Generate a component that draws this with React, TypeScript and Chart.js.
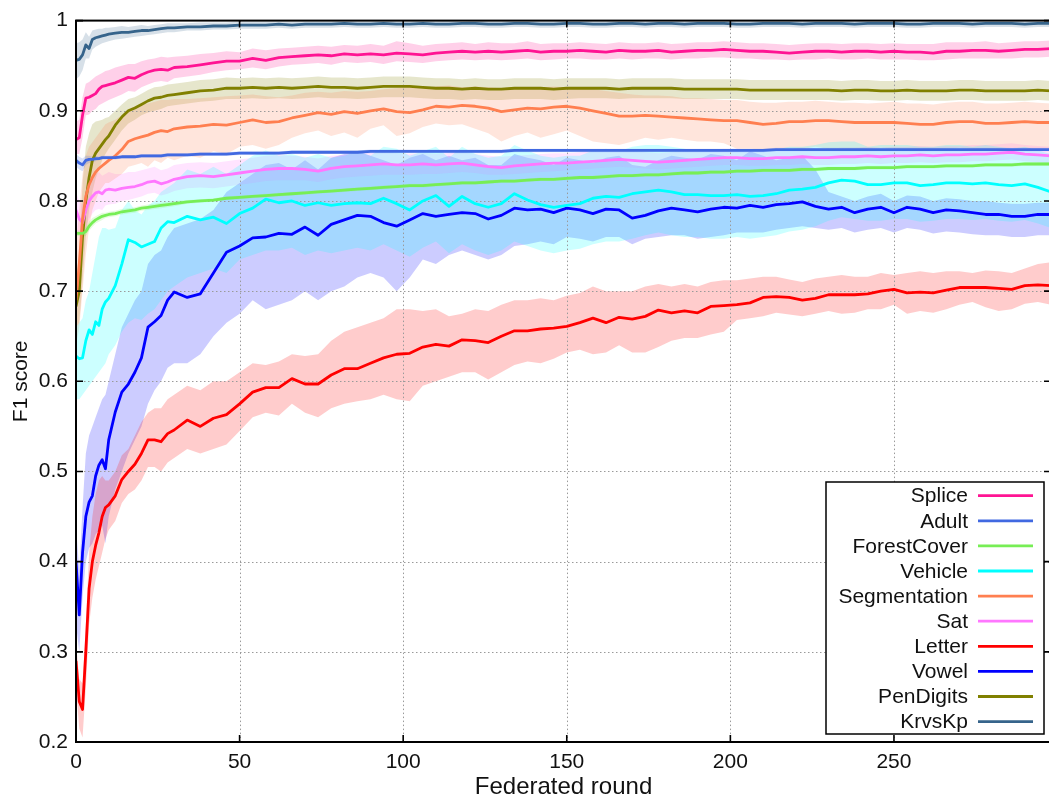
import React, { useEffect, useRef } from "react";
import { Chart, registerables } from "chart.js";

Chart.register(...registerables);

// Federated rounds at which the scores are sampled
const ROUNDS = [
  0, 1, 2, 3, 4, 5, 6, 7, 8, 9, 10,
  12, 14, 16, 18, 20, 22, 24, 26, 28, 30,
  34, 38, 42, 46, 50, 54, 58, 62, 66, 70,
  74, 78, 82, 86, 90, 94, 98, 102, 106, 110,
  114, 118, 122, 126, 130, 134, 138, 142, 146, 150,
  154, 158, 162, 166, 170, 174, 178, 182, 186, 190,
  194, 198, 202, 206, 210, 214, 218, 222, 226, 230,
  234, 238, 242, 246, 250, 254, 258, 262, 266, 270,
  274, 278, 282, 286, 290, 294, 298,
];

const X_TICKS = [0, 50, 100, 150, 200, 250];
const Y_TICKS = [0.2, 0.3, 0.4, 0.5, 0.6, 0.7, 0.8, 0.9, 1];
const Y_MIN = 0.2;
const Y_MAX = 1;
const X_MAX = 298;

const SERIES_NAMES = [
  "Splice", "Adult", "ForestCover", "Vehicle", "Segmentation",
  "Sat", "Letter", "Vowel", "PenDigits", "KrvsKp",
];
const SERIES_COLORS = [
  "#ff1493", "#4169e1", "#77ee55", "#00ffff", "#ff7f50",
  "#ff77ff", "#ff0000", "#0000ff", "#808000", "#36648b",
];

// ---- Splice ----
const SPLICE_MEAN = [
  0.868, 0.870, 0.895, 0.914, 0.915, 0.917, 0.919, 0.924, 0.927, 0.928, 0.929,
  0.931, 0.934, 0.937, 0.936, 0.940, 0.943, 0.945, 0.946, 0.945, 0.948,
  0.949, 0.951, 0.953, 0.955, 0.955, 0.958, 0.956, 0.959, 0.960, 0.961,
  0.962, 0.961, 0.963, 0.962, 0.963, 0.962, 0.964, 0.963, 0.962, 0.964,
  0.965, 0.966, 0.965, 0.966, 0.965, 0.966, 0.967, 0.965, 0.966, 0.966,
  0.967, 0.966, 0.965, 0.967, 0.966, 0.966, 0.967, 0.965, 0.966, 0.967,
  0.967, 0.968, 0.967, 0.966, 0.966, 0.965, 0.964, 0.965, 0.966, 0.966,
  0.965, 0.966, 0.966, 0.965, 0.966, 0.965, 0.965, 0.964, 0.966, 0.966,
  0.967, 0.967, 0.966, 0.967, 0.968, 0.968, 0.969,
];
const SPLICE_LOW = [
  0.852, 0.852, 0.870, 0.895, 0.896, 0.900, 0.902, 0.906, 0.908, 0.910, 0.912,
  0.915, 0.918, 0.922, 0.921, 0.926, 0.929, 0.932, 0.933, 0.932, 0.936,
  0.938, 0.940, 0.943, 0.945, 0.946, 0.948, 0.946, 0.949, 0.951, 0.952,
  0.953, 0.951, 0.954, 0.953, 0.954, 0.952, 0.955, 0.954, 0.953, 0.955,
  0.956, 0.957, 0.956, 0.957, 0.956, 0.957, 0.958, 0.956, 0.957, 0.958,
  0.958, 0.957, 0.957, 0.958, 0.957, 0.958, 0.958, 0.957, 0.958, 0.958,
  0.959, 0.959, 0.958, 0.958, 0.957, 0.957, 0.956, 0.957, 0.957, 0.958,
  0.957, 0.957, 0.958, 0.957, 0.957, 0.957, 0.956, 0.956, 0.957, 0.958,
  0.958, 0.958, 0.958, 0.958, 0.959, 0.959, 0.960,
];
const SPLICE_HIGH = [
  0.888, 0.890, 0.915, 0.930, 0.932, 0.935, 0.938, 0.940, 0.942, 0.944, 0.945,
  0.948, 0.950, 0.952, 0.952, 0.955, 0.957, 0.958, 0.960, 0.959, 0.960,
  0.961, 0.963, 0.964, 0.966, 0.965, 0.969, 0.967, 0.969, 0.970, 0.971,
  0.972, 0.971, 0.973, 0.972, 0.974, 0.972, 0.977, 0.975, 0.972, 0.974,
  0.975, 0.976, 0.974, 0.976, 0.975, 0.975, 0.977, 0.974, 0.975, 0.975,
  0.976, 0.975, 0.974, 0.976, 0.975, 0.975, 0.976, 0.974, 0.975, 0.976,
  0.976, 0.977, 0.976, 0.975, 0.975, 0.974, 0.973, 0.974, 0.975, 0.975,
  0.974, 0.975, 0.975, 0.974, 0.975, 0.974, 0.974, 0.974, 0.976, 0.976,
  0.976, 0.977, 0.975, 0.976, 0.977, 0.977, 0.978,
];

// ---- Adult ----
const ADULT_MEAN = [
  0.845, 0.842, 0.840, 0.845, 0.846, 0.846, 0.847, 0.847, 0.848, 0.848, 0.848,
  0.848, 0.849, 0.849, 0.849, 0.850, 0.850, 0.850, 0.850, 0.851, 0.851,
  0.851, 0.852, 0.852, 0.852, 0.853, 0.853, 0.853, 0.853, 0.854, 0.854,
  0.854, 0.854, 0.854, 0.854, 0.855, 0.855, 0.855, 0.855, 0.855, 0.855,
  0.855, 0.855, 0.855, 0.855, 0.855, 0.856, 0.856, 0.856, 0.856, 0.856,
  0.856, 0.856, 0.856, 0.856, 0.856, 0.856, 0.856, 0.856, 0.856, 0.856,
  0.856, 0.856, 0.856, 0.856, 0.856, 0.857, 0.857, 0.857, 0.857, 0.857,
  0.857, 0.857, 0.857, 0.857, 0.857, 0.857, 0.857, 0.857, 0.857, 0.857,
  0.857, 0.857, 0.857, 0.857, 0.857, 0.857, 0.857,
];
const ADULT_LOW = [
  0.838, 0.835, 0.833, 0.840, 0.842, 0.843, 0.844, 0.845, 0.846, 0.846, 0.846,
  0.846, 0.847, 0.847, 0.847, 0.848, 0.848, 0.848, 0.848, 0.849, 0.849,
  0.849, 0.850, 0.850, 0.850, 0.851, 0.851, 0.851, 0.851, 0.852, 0.852,
  0.852, 0.852, 0.852, 0.852, 0.853, 0.853, 0.853, 0.853, 0.853, 0.853,
  0.853, 0.853, 0.853, 0.853, 0.853, 0.854, 0.854, 0.854, 0.854, 0.854,
  0.854, 0.854, 0.854, 0.854, 0.854, 0.854, 0.854, 0.854, 0.854, 0.854,
  0.854, 0.854, 0.854, 0.854, 0.854, 0.855, 0.855, 0.855, 0.855, 0.855,
  0.855, 0.855, 0.855, 0.855, 0.855, 0.855, 0.855, 0.855, 0.855, 0.855,
  0.855, 0.855, 0.855, 0.855, 0.855, 0.855, 0.855,
];
const ADULT_HIGH = [
  0.852, 0.849, 0.847, 0.850, 0.850, 0.849, 0.850, 0.849, 0.850, 0.850, 0.850,
  0.850, 0.851, 0.851, 0.851, 0.852, 0.852, 0.852, 0.852, 0.853, 0.853,
  0.853, 0.854, 0.854, 0.854, 0.855, 0.855, 0.855, 0.855, 0.856, 0.856,
  0.856, 0.856, 0.856, 0.856, 0.857, 0.857, 0.857, 0.857, 0.857, 0.857,
  0.857, 0.857, 0.857, 0.857, 0.857, 0.858, 0.858, 0.858, 0.858, 0.858,
  0.858, 0.858, 0.858, 0.858, 0.858, 0.858, 0.858, 0.858, 0.858, 0.858,
  0.858, 0.858, 0.858, 0.858, 0.858, 0.859, 0.859, 0.859, 0.859, 0.859,
  0.859, 0.859, 0.859, 0.859, 0.859, 0.859, 0.859, 0.859, 0.859, 0.859,
  0.859, 0.859, 0.859, 0.859, 0.859, 0.859, 0.859,
];

// ---- ForestCover ----
const FOREST_MEAN = [
  0.764, 0.764, 0.764, 0.766, 0.772, 0.776, 0.779, 0.781, 0.783, 0.784, 0.785,
  0.786, 0.788, 0.789, 0.790, 0.792, 0.793, 0.794, 0.795, 0.796, 0.797,
  0.799, 0.800, 0.801, 0.803, 0.804, 0.805, 0.806, 0.807, 0.808, 0.809,
  0.810, 0.811, 0.812, 0.813, 0.814, 0.815, 0.816, 0.817, 0.817, 0.818,
  0.819, 0.820, 0.820, 0.821, 0.822, 0.822, 0.823, 0.824, 0.824, 0.825,
  0.826, 0.826, 0.827, 0.828, 0.828, 0.829, 0.829, 0.830, 0.831, 0.831,
  0.832, 0.832, 0.833, 0.833, 0.834, 0.834, 0.834, 0.835, 0.835, 0.836,
  0.836, 0.836, 0.837, 0.837, 0.837, 0.838, 0.838, 0.838, 0.839, 0.839,
  0.839, 0.840, 0.840, 0.840, 0.841, 0.841, 0.841,
];
const FOREST_LOW = [
  0.761, 0.761, 0.760, 0.761, 0.767, 0.771, 0.775, 0.777, 0.779, 0.781, 0.782,
  0.783, 0.785, 0.786, 0.787, 0.789, 0.790, 0.791, 0.792, 0.793, 0.794,
  0.797, 0.798, 0.799, 0.801, 0.802, 0.803, 0.804, 0.805, 0.806, 0.807,
  0.808, 0.809, 0.810, 0.811, 0.812, 0.813, 0.814, 0.815, 0.815, 0.816,
  0.817, 0.818, 0.818, 0.819, 0.820, 0.820, 0.821, 0.822, 0.822, 0.823,
  0.824, 0.824, 0.825, 0.826, 0.826, 0.827, 0.827, 0.828, 0.829, 0.829,
  0.830, 0.830, 0.831, 0.831, 0.832, 0.832, 0.832, 0.833, 0.833, 0.834,
  0.834, 0.834, 0.835, 0.835, 0.835, 0.836, 0.836, 0.836, 0.837, 0.837,
  0.837, 0.838, 0.838, 0.838, 0.839, 0.839, 0.839,
];
const FOREST_HIGH = [
  0.767, 0.767, 0.768, 0.771, 0.777, 0.781, 0.783, 0.785, 0.787, 0.787, 0.788,
  0.789, 0.791, 0.792, 0.793, 0.795, 0.796, 0.797, 0.798, 0.799, 0.800,
  0.801, 0.802, 0.803, 0.805, 0.806, 0.807, 0.808, 0.809, 0.810, 0.811,
  0.812, 0.813, 0.814, 0.815, 0.816, 0.817, 0.818, 0.819, 0.819, 0.820,
  0.821, 0.822, 0.822, 0.823, 0.824, 0.824, 0.825, 0.826, 0.826, 0.827,
  0.828, 0.828, 0.829, 0.830, 0.830, 0.831, 0.831, 0.832, 0.833, 0.833,
  0.834, 0.834, 0.835, 0.835, 0.836, 0.836, 0.836, 0.837, 0.837, 0.838,
  0.838, 0.838, 0.839, 0.839, 0.839, 0.840, 0.840, 0.840, 0.841, 0.841,
  0.841, 0.842, 0.842, 0.842, 0.843, 0.843, 0.843,
];

// ---- Vehicle ----
const VEHICLE_MEAN = [
  0.628, 0.625, 0.626, 0.645, 0.657, 0.652, 0.666, 0.662, 0.680, 0.688, 0.692,
  0.706, 0.730, 0.757, 0.754, 0.749, 0.752, 0.755, 0.770, 0.777, 0.776,
  0.783, 0.779, 0.782, 0.775, 0.786, 0.792, 0.802, 0.798, 0.800, 0.795,
  0.798, 0.795, 0.797, 0.798, 0.797, 0.803, 0.797, 0.790, 0.800, 0.806,
  0.794, 0.805, 0.797, 0.793, 0.797, 0.808, 0.801, 0.796, 0.793, 0.795,
  0.797, 0.803, 0.805, 0.804, 0.808, 0.810, 0.812, 0.810, 0.807, 0.807,
  0.806, 0.806, 0.807, 0.805, 0.806, 0.808, 0.812, 0.813, 0.815, 0.820,
  0.823, 0.822, 0.818, 0.818, 0.820, 0.820, 0.817, 0.818, 0.820, 0.820,
  0.819, 0.820, 0.818, 0.817, 0.819, 0.815, 0.810,
];
const VEHICLE_LOW = [
  0.580, 0.580, 0.585, 0.590, 0.595, 0.600, 0.605, 0.610, 0.615, 0.620, 0.630,
  0.640, 0.655, 0.665, 0.670, 0.668, 0.675, 0.680, 0.690, 0.700, 0.705,
  0.715, 0.720, 0.725, 0.720, 0.735, 0.740, 0.745, 0.745, 0.748, 0.740,
  0.745, 0.742, 0.745, 0.748, 0.745, 0.752, 0.745, 0.738, 0.748, 0.755,
  0.742, 0.752, 0.745, 0.740, 0.745, 0.755, 0.750, 0.745, 0.742, 0.745,
  0.747, 0.752, 0.755, 0.755, 0.758, 0.762, 0.765, 0.762, 0.760, 0.760,
  0.758, 0.758, 0.760, 0.758, 0.760, 0.762, 0.766, 0.768, 0.772, 0.778,
  0.782, 0.780, 0.778, 0.778, 0.780, 0.780, 0.777, 0.778, 0.780, 0.780,
  0.779, 0.780, 0.778, 0.777, 0.779, 0.775, 0.770,
];
const VEHICLE_HIGH = [
  0.660, 0.665, 0.670, 0.690, 0.700, 0.720, 0.740, 0.760, 0.770, 0.770, 0.768,
  0.770, 0.790, 0.800, 0.790, 0.785, 0.795, 0.800, 0.810, 0.815, 0.820,
  0.835, 0.830, 0.838, 0.830, 0.840, 0.850, 0.856, 0.850, 0.852, 0.848,
  0.852, 0.848, 0.850, 0.855, 0.850, 0.860, 0.858, 0.850, 0.855, 0.860,
  0.848, 0.860, 0.852, 0.848, 0.850, 0.862, 0.856, 0.850, 0.848, 0.850,
  0.850, 0.856, 0.858, 0.855, 0.860, 0.862, 0.862, 0.860, 0.858, 0.856,
  0.856, 0.857, 0.856, 0.855, 0.856, 0.857, 0.860, 0.860, 0.862, 0.865,
  0.866, 0.866, 0.860, 0.862, 0.862, 0.862, 0.860, 0.860, 0.862, 0.862,
  0.860, 0.862, 0.860, 0.858, 0.860, 0.856, 0.852,
];

// ---- Segmentation ----
const SEGMENTATION_MEAN = [
  0.690, 0.730, 0.780, 0.805, 0.818, 0.826, 0.832, 0.836, 0.839, 0.842, 0.845,
  0.850, 0.857, 0.866, 0.869, 0.871, 0.873, 0.876, 0.878, 0.877, 0.880,
  0.882, 0.883, 0.885, 0.884, 0.887, 0.890, 0.887, 0.888, 0.892, 0.895,
  0.898, 0.896, 0.899, 0.897, 0.900, 0.902, 0.899, 0.898, 0.901, 0.905,
  0.904, 0.906, 0.905, 0.903, 0.899, 0.901, 0.903, 0.902, 0.904, 0.905,
  0.903, 0.900, 0.897, 0.894, 0.894, 0.895, 0.894, 0.893, 0.892, 0.891,
  0.890, 0.889, 0.889, 0.887, 0.885, 0.886, 0.888, 0.888, 0.889, 0.889,
  0.888, 0.887, 0.887, 0.887, 0.887, 0.886, 0.885, 0.885, 0.887, 0.888,
  0.888, 0.886, 0.886, 0.887, 0.888, 0.887, 0.887,
];
const SEGMENTATION_LOW = [
  0.640, 0.660, 0.700, 0.740, 0.770, 0.790, 0.800, 0.810, 0.815, 0.820, 0.820,
  0.825, 0.830, 0.838, 0.840, 0.842, 0.838, 0.845, 0.842, 0.848, 0.845,
  0.850, 0.848, 0.855, 0.852, 0.860, 0.862, 0.858, 0.862, 0.870, 0.875,
  0.878, 0.872, 0.876, 0.870, 0.880, 0.884, 0.872, 0.875, 0.882, 0.886,
  0.884, 0.885, 0.880, 0.875, 0.866, 0.872, 0.876, 0.870, 0.874, 0.878,
  0.872, 0.866, 0.864, 0.862, 0.866, 0.870, 0.868, 0.870, 0.868, 0.866,
  0.866, 0.864, 0.858, 0.858, 0.857, 0.858, 0.859, 0.858, 0.860, 0.858,
  0.858, 0.857, 0.858, 0.859, 0.858, 0.857, 0.858, 0.857, 0.858, 0.859,
  0.858, 0.857, 0.858, 0.859, 0.858, 0.858, 0.858,
];
const SEGMENTATION_HIGH = [
  0.750, 0.790, 0.830, 0.850, 0.860, 0.865, 0.870, 0.875, 0.880, 0.885, 0.887,
  0.890, 0.895, 0.902, 0.905, 0.907, 0.908, 0.910, 0.912, 0.912, 0.913,
  0.913, 0.914, 0.915, 0.916, 0.917, 0.918, 0.916, 0.915, 0.917, 0.920,
  0.921, 0.920, 0.922, 0.921, 0.922, 0.924, 0.925, 0.926, 0.925, 0.927,
  0.928, 0.926, 0.927, 0.926, 0.925, 0.925, 0.926, 0.926, 0.927, 0.926,
  0.926, 0.924, 0.922, 0.920, 0.918, 0.917, 0.917, 0.916, 0.914, 0.914,
  0.913, 0.912, 0.912, 0.910, 0.909, 0.909, 0.910, 0.910, 0.911, 0.910,
  0.909, 0.909, 0.908, 0.909, 0.910, 0.908, 0.908, 0.907, 0.909, 0.910,
  0.910, 0.908, 0.908, 0.909, 0.910, 0.909, 0.908,
];

// ---- Sat ----
const SAT_MEAN = [
  0.790, 0.780, 0.776, 0.790, 0.800, 0.805, 0.809, 0.810, 0.808, 0.812, 0.813,
  0.812, 0.814, 0.815, 0.816, 0.818, 0.821, 0.822, 0.819, 0.821, 0.824,
  0.827, 0.828, 0.827, 0.829, 0.831, 0.833, 0.835, 0.836, 0.836, 0.835,
  0.833, 0.836, 0.838, 0.839, 0.840, 0.841, 0.840, 0.840, 0.841, 0.840,
  0.841, 0.842, 0.840, 0.838, 0.837, 0.839, 0.840, 0.841, 0.842, 0.842,
  0.843, 0.844, 0.845, 0.846, 0.845, 0.844, 0.843, 0.844, 0.845, 0.846,
  0.847, 0.848, 0.848, 0.847, 0.847, 0.848, 0.848, 0.849, 0.848, 0.848,
  0.849, 0.849, 0.850, 0.849, 0.850, 0.850, 0.851, 0.850, 0.851, 0.851,
  0.852, 0.852, 0.853, 0.854, 0.852, 0.851, 0.850,
];
const SAT_LOW = [
  0.770, 0.760, 0.758, 0.770, 0.780, 0.786, 0.790, 0.791, 0.790, 0.795, 0.796,
  0.797, 0.800, 0.801, 0.803, 0.805, 0.808, 0.809, 0.806, 0.808, 0.811,
  0.814, 0.815, 0.814, 0.816, 0.818, 0.820, 0.822, 0.823, 0.823, 0.823,
  0.821, 0.824, 0.826, 0.827, 0.828, 0.829, 0.829, 0.829, 0.830, 0.830,
  0.831, 0.832, 0.831, 0.829, 0.829, 0.830, 0.831, 0.832, 0.833, 0.834,
  0.835, 0.836, 0.837, 0.838, 0.837, 0.836, 0.835, 0.836, 0.837, 0.838,
  0.839, 0.840, 0.840, 0.839, 0.839, 0.840, 0.840, 0.841, 0.840, 0.840,
  0.841, 0.841, 0.842, 0.841, 0.842, 0.842, 0.843, 0.842, 0.843, 0.843,
  0.844, 0.844, 0.845, 0.846, 0.844, 0.843, 0.842,
];
const SAT_HIGH = [
  0.810, 0.800, 0.796, 0.812, 0.822, 0.826, 0.830, 0.832, 0.828, 0.830, 0.832,
  0.830, 0.830, 0.832, 0.832, 0.834, 0.836, 0.838, 0.834, 0.836, 0.840,
  0.842, 0.843, 0.842, 0.844, 0.846, 0.848, 0.850, 0.851, 0.850, 0.849,
  0.847, 0.850, 0.851, 0.853, 0.853, 0.854, 0.853, 0.852, 0.853, 0.852,
  0.853, 0.854, 0.852, 0.850, 0.849, 0.850, 0.851, 0.852, 0.853, 0.853,
  0.854, 0.855, 0.856, 0.857, 0.855, 0.854, 0.853, 0.854, 0.855, 0.856,
  0.857, 0.858, 0.858, 0.857, 0.857, 0.858, 0.858, 0.859, 0.858, 0.858,
  0.859, 0.859, 0.860, 0.859, 0.860, 0.860, 0.861, 0.860, 0.861, 0.861,
  0.862, 0.862, 0.863, 0.864, 0.862, 0.861, 0.860,
];

// ---- Letter ----
const LETTER_MEAN = [
  0.290, 0.245, 0.236, 0.300, 0.370, 0.400, 0.418, 0.432, 0.450, 0.460, 0.463,
  0.473, 0.491, 0.500, 0.508, 0.520, 0.535, 0.535, 0.533, 0.542, 0.546,
  0.557, 0.550, 0.559, 0.563, 0.575, 0.588, 0.593, 0.593, 0.603, 0.597,
  0.597, 0.607, 0.614, 0.614, 0.620, 0.626, 0.630, 0.631, 0.638, 0.641,
  0.639, 0.646, 0.645, 0.643, 0.650, 0.656, 0.656, 0.658, 0.659, 0.661,
  0.665, 0.670, 0.665, 0.671, 0.669, 0.672, 0.679, 0.676, 0.678, 0.676,
  0.683, 0.684, 0.685, 0.687, 0.693, 0.694, 0.693, 0.690, 0.692, 0.696,
  0.696, 0.696, 0.697, 0.700, 0.702, 0.698, 0.699, 0.698, 0.701, 0.704,
  0.704, 0.704, 0.703, 0.702, 0.706, 0.707, 0.706,
];
const LETTER_LOW = [
  0.260, 0.215, 0.205, 0.260, 0.330, 0.360, 0.380, 0.395, 0.410, 0.425, 0.435,
  0.445, 0.465, 0.475, 0.480, 0.490, 0.505, 0.505, 0.500, 0.510, 0.515,
  0.525, 0.520, 0.525, 0.530, 0.545, 0.560, 0.565, 0.562, 0.575, 0.565,
  0.560, 0.570, 0.575, 0.578, 0.580, 0.585, 0.580, 0.578, 0.595, 0.600,
  0.605, 0.610, 0.610, 0.602, 0.610, 0.618, 0.622, 0.620, 0.625, 0.632,
  0.635, 0.630, 0.632, 0.640, 0.632, 0.632, 0.638, 0.645, 0.648, 0.648,
  0.652, 0.655, 0.668, 0.670, 0.672, 0.676, 0.674, 0.672, 0.675, 0.678,
  0.675, 0.676, 0.680, 0.680, 0.685, 0.675, 0.678, 0.676, 0.680, 0.685,
  0.688, 0.682, 0.678, 0.680, 0.686, 0.688, 0.685,
];
const LETTER_HIGH = [
  0.310, 0.270, 0.265, 0.330, 0.410, 0.450, 0.475, 0.490, 0.495, 0.490, 0.490,
  0.500, 0.518, 0.525, 0.540, 0.555, 0.565, 0.570, 0.570, 0.580, 0.585,
  0.595, 0.590, 0.600, 0.600, 0.610, 0.620, 0.618, 0.622, 0.630, 0.628,
  0.630, 0.645, 0.655, 0.660, 0.665, 0.670, 0.680, 0.680, 0.678, 0.680,
  0.672, 0.675, 0.680, 0.678, 0.685, 0.690, 0.690, 0.692, 0.690, 0.695,
  0.698, 0.705, 0.700, 0.700, 0.700, 0.705, 0.708, 0.705, 0.708, 0.705,
  0.710, 0.712, 0.712, 0.714, 0.716, 0.716, 0.713, 0.710, 0.714, 0.716,
  0.718, 0.716, 0.716, 0.720, 0.718, 0.720, 0.722, 0.720, 0.722, 0.722,
  0.720, 0.723, 0.722, 0.720, 0.725, 0.730, 0.732,
];

// ---- Vowel ----
const VOWEL_MEAN = [
  0.400, 0.341, 0.410, 0.450, 0.466, 0.473, 0.495, 0.507, 0.513, 0.503, 0.535,
  0.566, 0.588, 0.597, 0.610, 0.626, 0.660, 0.666, 0.673, 0.690, 0.699,
  0.693, 0.697, 0.720, 0.743, 0.750, 0.759, 0.760, 0.764, 0.763, 0.771,
  0.762, 0.774, 0.779, 0.784, 0.783, 0.776, 0.772, 0.779, 0.786, 0.783,
  0.785, 0.787, 0.786, 0.780, 0.784, 0.792, 0.790, 0.791, 0.787, 0.792,
  0.790, 0.786, 0.791, 0.790, 0.781, 0.784, 0.789, 0.792, 0.790, 0.788,
  0.791, 0.793, 0.792, 0.795, 0.793, 0.796, 0.797, 0.799, 0.794, 0.791,
  0.793, 0.787, 0.791, 0.793, 0.787, 0.793, 0.791, 0.787, 0.790, 0.789,
  0.787, 0.785, 0.785, 0.783, 0.783, 0.785, 0.785,
];
const VOWEL_LOW = [
  0.330, 0.300, 0.360, 0.400, 0.415, 0.420, 0.430, 0.435, 0.440, 0.420, 0.450,
  0.480, 0.500, 0.520, 0.535, 0.550, 0.575, 0.590, 0.600, 0.615, 0.620,
  0.620, 0.630, 0.650, 0.665, 0.675, 0.690, 0.680, 0.685, 0.690, 0.700,
  0.690, 0.700, 0.705, 0.715, 0.720, 0.715, 0.700, 0.715, 0.735, 0.730,
  0.740, 0.745, 0.740, 0.735, 0.740, 0.750, 0.752, 0.755, 0.752, 0.760,
  0.758, 0.755, 0.760, 0.760, 0.752, 0.758, 0.760, 0.762, 0.762, 0.758,
  0.760, 0.762, 0.765, 0.765, 0.765, 0.768, 0.770, 0.772, 0.770, 0.768,
  0.770, 0.765, 0.768, 0.770, 0.765, 0.770, 0.768, 0.764, 0.766, 0.765,
  0.763, 0.762, 0.762, 0.760, 0.760, 0.762, 0.762,
];
const VOWEL_HIGH = [
  0.440, 0.390, 0.460, 0.520, 0.540, 0.550, 0.560, 0.570, 0.580, 0.585, 0.600,
  0.630, 0.660, 0.675, 0.690, 0.700, 0.730, 0.740, 0.745, 0.760, 0.770,
  0.775, 0.780, 0.790, 0.810, 0.820, 0.830, 0.840, 0.842, 0.835, 0.845,
  0.835, 0.848, 0.852, 0.855, 0.850, 0.845, 0.840, 0.848, 0.852, 0.845,
  0.850, 0.845, 0.848, 0.840, 0.840, 0.852, 0.848, 0.845, 0.840, 0.848,
  0.845, 0.842, 0.848, 0.850, 0.840, 0.838, 0.845, 0.850, 0.848, 0.846,
  0.852, 0.850, 0.845, 0.855, 0.850, 0.845, 0.848, 0.850, 0.835, 0.810,
  0.805, 0.800, 0.805, 0.808, 0.800, 0.806, 0.805, 0.800, 0.803, 0.802,
  0.800, 0.800, 0.798, 0.797, 0.797, 0.798, 0.798,
];

// ---- PenDigits ----
const PENDIGITS_MEAN = [
  0.683, 0.700, 0.760, 0.800, 0.826, 0.845, 0.853, 0.858, 0.863, 0.868, 0.872,
  0.884, 0.893, 0.900, 0.903, 0.907, 0.911, 0.914, 0.915, 0.917, 0.918,
  0.920, 0.922, 0.923, 0.925, 0.925, 0.926, 0.925, 0.926, 0.925, 0.926,
  0.927, 0.926, 0.926, 0.925, 0.926, 0.927, 0.927, 0.927, 0.926, 0.925,
  0.925, 0.924, 0.925, 0.924, 0.924, 0.925, 0.925, 0.925, 0.924, 0.925,
  0.925, 0.925, 0.925, 0.924, 0.925, 0.925, 0.925, 0.925, 0.924, 0.924,
  0.924, 0.924, 0.924, 0.923, 0.923, 0.923, 0.923, 0.923, 0.923, 0.923,
  0.922, 0.923, 0.923, 0.922, 0.922, 0.923, 0.922, 0.922, 0.922, 0.923,
  0.923, 0.922, 0.922, 0.922, 0.922, 0.923, 0.922,
];
const PENDIGITS_LOW = [
  0.660, 0.665, 0.710, 0.760, 0.790, 0.810, 0.825, 0.835, 0.845, 0.852, 0.858,
  0.868, 0.878, 0.886, 0.890, 0.895, 0.898, 0.900, 0.902, 0.905, 0.906,
  0.908, 0.910, 0.911, 0.913, 0.913, 0.914, 0.913, 0.914, 0.913, 0.914,
  0.915, 0.914, 0.914, 0.913, 0.914, 0.915, 0.915, 0.915, 0.914, 0.913,
  0.913, 0.912, 0.913, 0.912, 0.912, 0.913, 0.913, 0.913, 0.912, 0.913,
  0.914, 0.914, 0.914, 0.913, 0.914, 0.914, 0.914, 0.914, 0.913, 0.913,
  0.913, 0.913, 0.913, 0.912, 0.912, 0.912, 0.912, 0.912, 0.912, 0.912,
  0.911, 0.912, 0.912, 0.911, 0.911, 0.912, 0.911, 0.911, 0.911, 0.912,
  0.912, 0.911, 0.911, 0.911, 0.911, 0.912, 0.911,
];
const PENDIGITS_HIGH = [
  0.710, 0.745, 0.820, 0.860, 0.875, 0.885, 0.888, 0.889, 0.890, 0.892, 0.893,
  0.900, 0.907, 0.913, 0.915, 0.919, 0.923, 0.926, 0.927, 0.929, 0.930,
  0.932, 0.934, 0.935, 0.937, 0.936, 0.937, 0.936, 0.937, 0.936, 0.937,
  0.938, 0.937, 0.937, 0.936, 0.937, 0.938, 0.938, 0.938, 0.937, 0.936,
  0.936, 0.935, 0.936, 0.935, 0.935, 0.936, 0.936, 0.936, 0.935, 0.936,
  0.936, 0.936, 0.936, 0.935, 0.936, 0.936, 0.936, 0.936, 0.935, 0.935,
  0.935, 0.935, 0.935, 0.934, 0.934, 0.934, 0.934, 0.934, 0.934, 0.934,
  0.933, 0.934, 0.934, 0.933, 0.933, 0.934, 0.933, 0.933, 0.933, 0.934,
  0.934, 0.933, 0.933, 0.933, 0.933, 0.934, 0.933,
];

// ---- KrvsKp ----
const KRVSKP_MEAN = [
  0.956, 0.957, 0.962, 0.973, 0.969, 0.979, 0.981, 0.982, 0.983, 0.984, 0.985,
  0.986, 0.987, 0.987, 0.988, 0.989, 0.989, 0.990, 0.991, 0.992, 0.992,
  0.993, 0.993, 0.994, 0.994, 0.995, 0.995, 0.995, 0.996, 0.995, 0.996,
  0.996, 0.996, 0.997, 0.996, 0.996, 0.997, 0.996, 0.996, 0.997, 0.996,
  0.996, 0.997, 0.997, 0.996, 0.996, 0.997, 0.997, 0.996, 0.996, 0.997,
  0.997, 0.996, 0.996, 0.997, 0.997, 0.996, 0.997, 0.997, 0.996, 0.997,
  0.997, 0.997, 0.996, 0.996, 0.997, 0.997, 0.997, 0.996, 0.997, 0.997,
  0.997, 0.996, 0.997, 0.997, 0.997, 0.996, 0.996, 0.997, 0.997, 0.997,
  0.996, 0.997, 0.997, 0.997, 0.996, 0.997, 0.997,
];
const KRVSKP_LOW = [
  0.935, 0.938, 0.945, 0.958, 0.958, 0.968, 0.971, 0.973, 0.975, 0.976, 0.977,
  0.979, 0.980, 0.981, 0.982, 0.983, 0.984, 0.985, 0.986, 0.987, 0.987,
  0.989, 0.989, 0.990, 0.990, 0.991, 0.991, 0.991, 0.992, 0.991, 0.992,
  0.992, 0.992, 0.993, 0.992, 0.992, 0.993, 0.992, 0.992, 0.993, 0.992,
  0.992, 0.993, 0.993, 0.992, 0.992, 0.993, 0.993, 0.992, 0.992, 0.993,
  0.993, 0.992, 0.992, 0.993, 0.993, 0.992, 0.993, 0.993, 0.992, 0.993,
  0.993, 0.993, 0.992, 0.992, 0.993, 0.993, 0.993, 0.992, 0.993, 0.993,
  0.993, 0.992, 0.993, 0.993, 0.993, 0.992, 0.992, 0.993, 0.993, 0.993,
  0.992, 0.993, 0.993, 0.993, 0.992, 0.993, 0.993,
];
const KRVSKP_HIGH = [
  0.975, 0.976, 0.979, 0.987, 0.982, 0.989, 0.990, 0.991, 0.991, 0.992, 0.992,
  0.993, 0.994, 0.993, 0.994, 0.995, 0.994, 0.995, 0.996, 0.997, 0.997,
  0.997, 0.998, 0.998, 0.998, 0.999, 0.999, 0.999, 0.999, 0.999, 0.999,
  0.999, 0.999, 1.000, 0.999, 0.999, 1.000, 0.999, 0.999, 1.000, 0.999,
  1.000, 0.999, 1.000, 0.999, 0.999, 1.000, 1.000, 0.999, 0.999, 1.000,
  1.000, 0.999, 0.999, 1.000, 1.000, 0.999, 1.000, 1.000, 0.999, 1.000,
  1.000, 1.000, 0.999, 0.999, 1.000, 1.000, 1.000, 0.999, 1.000, 1.000,
  1.000, 0.999, 1.000, 1.000, 1.000, 0.999, 0.999, 1.000, 1.000, 1.000,
  0.999, 1.000, 1.000, 1.000, 0.999, 1.000, 1.000,
];

const SERIES_MEANS = [
  SPLICE_MEAN, ADULT_MEAN, FOREST_MEAN, VEHICLE_MEAN, SEGMENTATION_MEAN,
  SAT_MEAN, LETTER_MEAN, VOWEL_MEAN, PENDIGITS_MEAN, KRVSKP_MEAN,
];
const SERIES_LOWS = [
  SPLICE_LOW, ADULT_LOW, FOREST_LOW, VEHICLE_LOW, SEGMENTATION_LOW,
  SAT_LOW, LETTER_LOW, VOWEL_LOW, PENDIGITS_LOW, KRVSKP_LOW,
];
const SERIES_HIGHS = [
  SPLICE_HIGH, ADULT_HIGH, FOREST_HIGH, VEHICLE_HIGH, SEGMENTATION_HIGH,
  SAT_HIGH, LETTER_HIGH, VOWEL_HIGH, PENDIGITS_HIGH, KRVSKP_HIGH,
];

const FONT_FAMILY = '"Liberation Sans", Arial, Helvetica, sans-serif';
const CANVAS_W = 1052;
const CANVAS_H = 804;
const LINE_WIDTH = 2.8;

function withAlpha(hex: string, alpha: number): string {
  const n = parseInt(hex.slice(1), 16);
  return `rgba(${(n >> 16) & 255}, ${(n >> 8) & 255}, ${n & 255}, ${alpha})`;
}

function toPoints(values: number[]) {
  return ROUNDS.map((r, i) => ({ x: r, y: values[i] }));
}

// Dotted grid, black frame with inward ticks, and the boxed legend
const framePlugin = {
  id: "frame",
  beforeDatasetsDraw(chart: any) {
    const { ctx, chartArea: a, scales } = chart;
    const xs = scales.x;
    const ys = scales.y;
    ctx.save();
    ctx.strokeStyle = "#9a9a9a";
    ctx.lineWidth = 1;
    ctx.setLineDash([1.5, 2.5]);
    xs.ticks.forEach((t: any) => {
      if (t.value <= xs.min || t.value >= xs.max) return;
      const px = Math.round(xs.getPixelForValue(t.value)) + 0.5;
      ctx.beginPath();
      ctx.moveTo(px, a.top);
      ctx.lineTo(px, a.bottom);
      ctx.stroke();
    });
    ys.ticks.forEach((t: any) => {
      if (t.value <= ys.min + 1e-9 || t.value >= ys.max - 1e-9) return;
      const py = Math.round(ys.getPixelForValue(t.value)) + 0.5;
      ctx.beginPath();
      ctx.moveTo(a.left, py);
      ctx.lineTo(a.right, py);
      ctx.stroke();
    });
    ctx.restore();
  },
  afterDraw(chart: any) {
    const { ctx, chartArea: a, scales } = chart;
    const xs = scales.x;
    const ys = scales.y;
    ctx.save();
    ctx.setLineDash([]);
    ctx.strokeStyle = "#000";
    ctx.lineWidth = 2;
    ctx.strokeRect(a.left, a.top, a.right - a.left, a.bottom - a.top);

    const tick = 7;
    ctx.lineWidth = 1.6;
    xs.ticks.forEach((t: any) => {
      const px = xs.getPixelForValue(t.value);
      ctx.beginPath();
      ctx.moveTo(px, a.bottom);
      ctx.lineTo(px, a.bottom - tick);
      ctx.moveTo(px, a.top);
      ctx.lineTo(px, a.top + tick);
      ctx.stroke();
    });
    ys.ticks.forEach((t: any) => {
      const py = ys.getPixelForValue(t.value);
      ctx.beginPath();
      ctx.moveTo(a.left, py);
      ctx.lineTo(a.left + tick, py);
      ctx.moveTo(a.right, py);
      ctx.lineTo(a.right - tick, py);
      ctx.stroke();
    });

    // legend
    const box = { left: 826, top: 482, right: 1044, bottom: 734 };
    const firstRow = 495.7;
    const rowStep = 25.1;
    const textRight = 968;
    const sampleStart = 978;
    const sampleEnd = 1033;
    ctx.fillStyle = "#fff";
    ctx.fillRect(box.left, box.top, box.right - box.left, box.bottom - box.top);
    ctx.lineWidth = 1.5;
    ctx.strokeStyle = "#000";
    ctx.strokeRect(box.left, box.top, box.right - box.left, box.bottom - box.top);
    ctx.font = `21px ${FONT_FAMILY}`;
    ctx.textAlign = "right";
    ctx.textBaseline = "middle";
    SERIES_NAMES.forEach((name, i) => {
      const y = firstRow + i * rowStep;
      ctx.fillStyle = "#111";
      ctx.fillText(name, textRight, y + 1);
      ctx.strokeStyle = SERIES_COLORS[i];
      ctx.lineWidth = LINE_WIDTH;
      ctx.beginPath();
      ctx.moveTo(sampleStart, y);
      ctx.lineTo(sampleEnd, y);
      ctx.stroke();
    });
    ctx.restore();
  },
};

export default function App() {
  const canvasRef = useRef<HTMLCanvasElement | null>(null);

  useEffect(() => {
    const canvas = canvasRef.current;
    if (!canvas) return;

    const bandSets: any[] = [];
    SERIES_NAMES.forEach((name, i) => {
      bandSets.push({
        label: `${name} low`,
        data: toPoints(SERIES_LOWS[i]),
        borderColor: "rgba(0,0,0,0)",
        borderWidth: 0,
        pointRadius: 0,
        fill: false,
      });
      bandSets.push({
        label: `${name} high`,
        data: toPoints(SERIES_HIGHS[i]),
        borderColor: "rgba(0,0,0,0)",
        borderWidth: 0,
        pointRadius: 0,
        backgroundColor: withAlpha(SERIES_COLORS[i], 0.2),
        fill: "-1",
      });
    });
    const lineSets = SERIES_NAMES.map((name, i) => ({
      label: name,
      data: toPoints(SERIES_MEANS[i]),
      borderColor: SERIES_COLORS[i],
      borderWidth: LINE_WIDTH,
      borderJoinStyle: "round",
      pointRadius: 0,
      fill: false,
    }));

    const tickFont = { family: FONT_FAMILY, size: 21 };

    const chart = new Chart(canvas, {
      type: "line",
      data: { datasets: [...bandSets, ...lineSets] as any },
      options: {
        animation: false,
        responsive: false,
        devicePixelRatio: 1,
        events: [],
        layout: { padding: { top: 13, right: 1, left: 0, bottom: 0 } },
        elements: { line: { tension: 0 } },
        plugins: {
          legend: { display: false },
          tooltip: { enabled: false },
          filler: { propagate: false, drawTime: "beforeDatasetsDraw" } as any,
        },
        scales: {
          x: {
            type: "linear",
            min: 0,
            max: X_MAX,
            grid: { display: false, drawTicks: false },
            border: { display: false },
            afterBuildTicks: (s: any) => {
              s.ticks = X_TICKS.map((v) => ({ value: v }));
            },
            ticks: {
              maxRotation: 0,
              autoSkip: false,
              padding: 8,
              color: "#111",
              font: tickFont,
            },
            title: {
              display: true,
              text: "Federated round",
              color: "#111",
              font: { family: FONT_FAMILY, size: 24 },
              padding: { top: 0, bottom: 2 },
            },
            afterFit: (s: any) => {
              s.height = 62;
            },
          },
          y: {
            type: "linear",
            min: Y_MIN,
            max: Y_MAX,
            grid: { display: false, drawTicks: false },
            border: { display: false },
            afterBuildTicks: (s: any) => {
              s.ticks = Y_TICKS.map((v) => ({ value: v }));
            },
            ticks: {
              autoSkip: false,
              padding: 8,
              color: "#111",
              font: tickFont,
              callback: (v: any) => (Math.abs(v - 1) < 1e-9 ? "1" : Number(v).toFixed(1)),
            },
            title: {
              display: true,
              text: "F1 score",
              color: "#111",
              font: { family: FONT_FAMILY, size: 21 },
              padding: { top: 9, bottom: 0 },
            },
            afterFit: (s: any) => {
              s.width = 76;
            },
          },
        },
      } as any,
      plugins: [framePlugin],
    });

    return () => chart.destroy();
  }, []);

  return (
    <div
      style={{
        position: "fixed",
        left: 0,
        top: 0,
        width: 1049,
        height: 804,
        overflow: "hidden",
        background: "#fff",
      }}
    >
      <canvas
        ref={canvasRef}
        width={CANVAS_W}
        height={CANVAS_H}
        style={{ display: "block", width: CANVAS_W, height: CANVAS_H }}
      />
    </div>
  );
}
